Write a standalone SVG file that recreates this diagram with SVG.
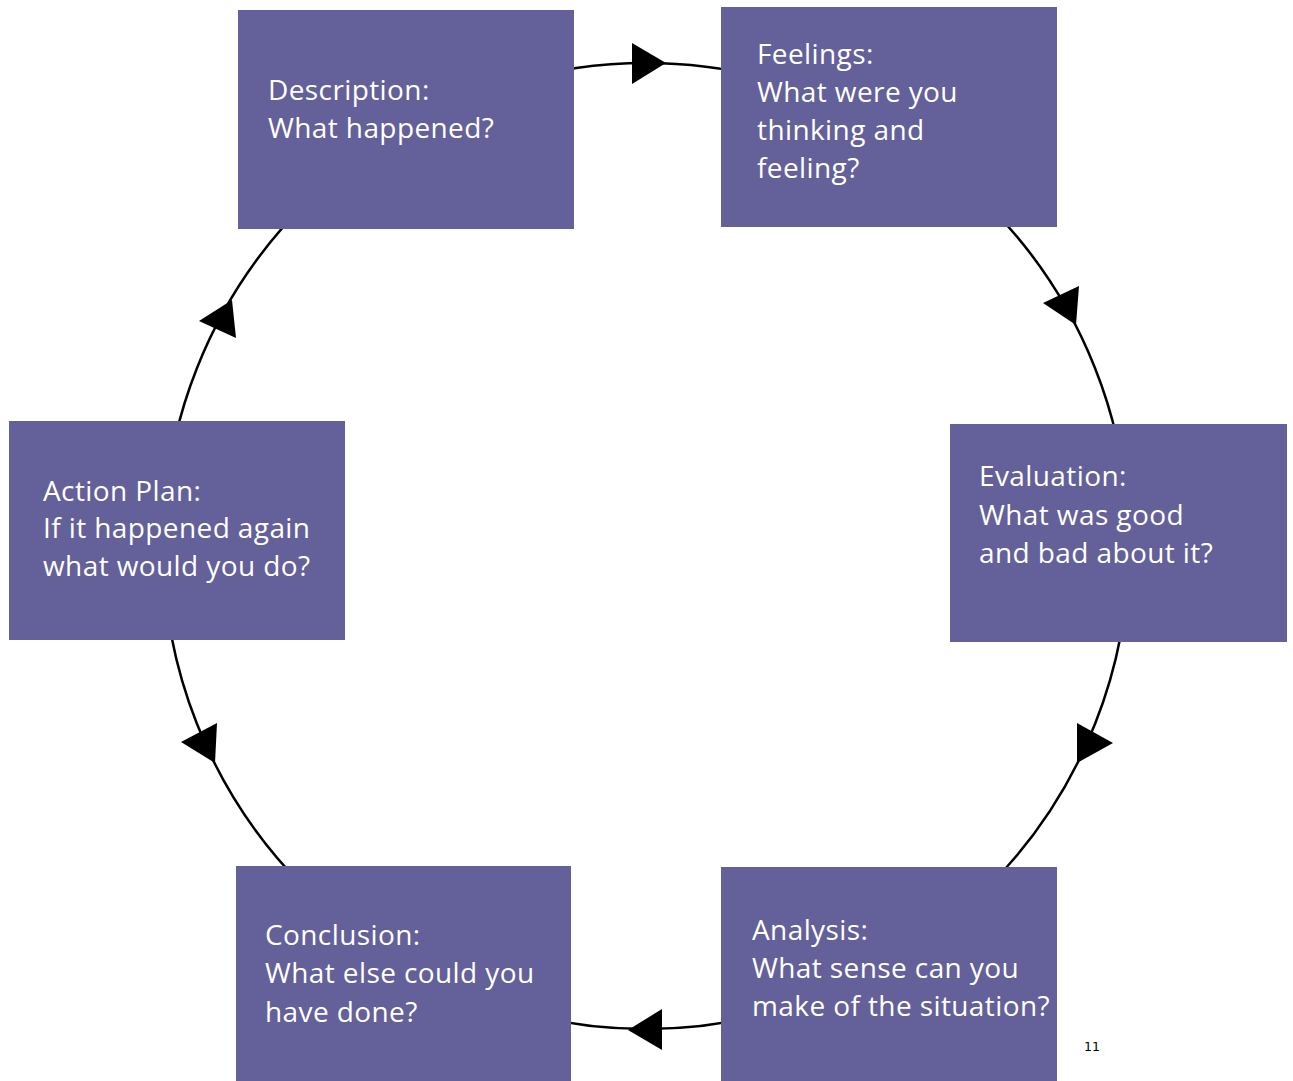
<svg xmlns="http://www.w3.org/2000/svg" width="1293" height="1081" viewBox="0 0 1293 1081">
  <style>
    .box { fill: #646099; }
    .lbl { font-family: "Open Sans", "Noto Sans", "Liberation Sans", sans-serif; font-size: 28px; letter-spacing: 0.4px; fill: #ffffff; }
    .ring { fill: none; stroke: #000000; stroke-width: 2.5; }
    .head { fill: #000000; }
    .pg { font-family: "DejaVu Sans", Verdana, sans-serif; font-size: 12.5px; fill: #000000; }
  </style>
  <rect width="1293" height="1081" fill="#ffffff"/>
  <g id="connectors">
    <circle class="ring" cx="646" cy="546" r="483"/>
    <polygon class="head" points="632,43 632,84 666,63"/>
    <polygon class="head" points="1043,303 1079,286 1076,325"/>
    <polygon class="head" points="1077,723 1077,763 1113,743"/>
    <polygon class="head" points="662,1009 662,1050 628,1030"/>
    <polygon class="head" points="181,742 217,723 215,763"/>
    <polygon class="head" points="232,300 199,321 236,338"/>
  </g>
  <g id="description">
    <rect class="box" x="238" y="10" width="336" height="219"/>
    <text class="lbl"><tspan x="268" y="100">Description:</tspan><tspan x="268" y="138">What happened?</tspan></text>
  </g>
  <g id="feelings">
    <rect class="box" x="721" y="7" width="336" height="220"/>
    <text class="lbl"><tspan x="757" y="64">Feelings:</tspan><tspan x="757" y="102">What were you</tspan><tspan x="757" y="140">thinking and</tspan><tspan x="757" y="178">feeling?</tspan></text>
  </g>
  <g id="evaluation">
    <rect class="box" x="950" y="424" width="337" height="218"/>
    <text class="lbl"><tspan x="979" y="486">Evaluation:</tspan><tspan x="979" y="525">What was good</tspan><tspan x="979" y="563">and bad about it?</tspan></text>
  </g>
  <g id="analysis">
    <rect class="box" x="721" y="867" width="336" height="214"/>
    <text class="lbl"><tspan x="752" y="940">Analysis:</tspan><tspan x="752" y="978">What sense can you</tspan><tspan x="752" y="1016">make of the situation?</tspan></text>
  </g>
  <g id="conclusion">
    <rect class="box" x="236" y="866" width="335" height="215"/>
    <text class="lbl"><tspan x="265" y="945">Conclusion:</tspan><tspan x="265" y="983">What else could you</tspan><tspan x="265" y="1022">have done?</tspan></text>
  </g>
  <g id="action-plan">
    <rect class="box" x="9" y="421" width="336" height="219"/>
    <text class="lbl"><tspan x="43" y="501">Action Plan:</tspan><tspan x="43" y="538">If it happened again</tspan><tspan x="43" y="576">what would you do?</tspan></text>
  </g>
  <text class="pg" x="1084" y="1051">11</text>
</svg>
